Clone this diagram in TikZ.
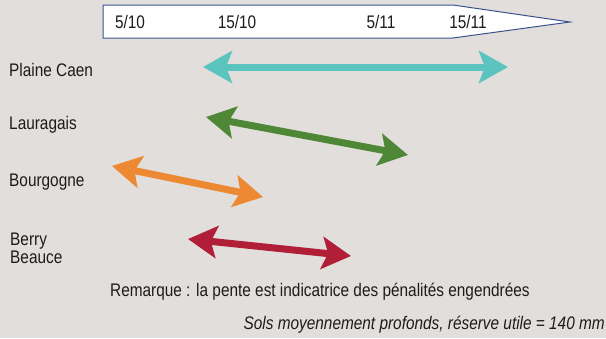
\documentclass[tikz,border=0pt]{standalone}
\usepackage{fontspec}
\setmainfont{Liberation Sans}[FakeStretch=0.845]
\usepackage{xcolor}
\usepackage{tikz}
\usetikzlibrary{arrows.meta,positioning}
\definecolor{fondgris}{RGB}{226,222,220}
\definecolor{bordbleu}{RGB}{58,82,140}
\definecolor{texte}{RGB}{30,27,28}
\definecolor{caen}{RGB}{92,196,190}
\definecolor{lauragais}{RGB}{78,136,54}
\definecolor{bourgogne}{RGB}{236,137,50}
\definecolor{berry}{RGB}{176,30,56}

\begin{document}
\begin{tikzpicture}[x=1pt,y=-1pt,font=\fontsize{18.2}{20}\selectfont,text=texte,
   region/.style={anchor=base west,inner sep=0pt},
   date/.style={inner sep=0pt},
   fleche/.style={line width=7pt,
       {Stealth[length=29pt,width=32pt,inset=6pt]}-{Stealth[length=29pt,width=32pt,inset=6pt]}}]
  \fill[fondgris] (0,0) rectangle (606,338);
  \useasboundingbox (0,0) rectangle (606,338);
  % calendar arrow
  \draw[bordbleu,fill=white,line width=1pt] (103,5) -- (453,5) -- (570,22) -- (453,38) -- (103,38) -- cycle;
  \node[date] (d1) at (130,22) {5/10};
  \node[date] (d2) at (237,22) {15/10};
  \node[date] (d3) at (381,22) {5/11};
  \node[date] (d4) at (468,22) {15/11};
  % regions
  \node[region] (plaine) at (9,76) {Plaine Caen};
  \node[region] (laur) at (9,129.3) {Lauragais};
  \node[region] (bourg) at (9,186.7) {Bourgogne};
  \node[region] (berry) at (10,245) {Berry};
  \node[region] (beauce) at (10,263.5) {Beauce};
  % sowing windows
  \coordinate (caenG) at (203,67);  \coordinate (caenD) at (508,67);
  \coordinate (laurG) at (206,117); \coordinate (laurD) at (408,155);
  \coordinate (bourG) at (112,166); \coordinate (bourD) at (263,197);
  \coordinate (berrG) at (188,239); \coordinate (berrD) at (351,256);
  \draw[fleche,caen] (caenG) -- (caenD);
  \draw[fleche,lauragais] (laurG) -- (laurD);
  \draw[fleche,bourgogne] (bourG) -- (bourD);
  \draw[fleche,berry] (berrG) -- (berrD);
  % notes
  \node[region] (rem) at (110,296.7) {Remarque : la pente est indicatrice des pénalités engendrées};
  \node[anchor=base east,inner sep=0pt] (sols) at (605,329) {\itshape Sols moyennement profonds, réserve utile = 140 mm};
\end{tikzpicture}
\end{document}
